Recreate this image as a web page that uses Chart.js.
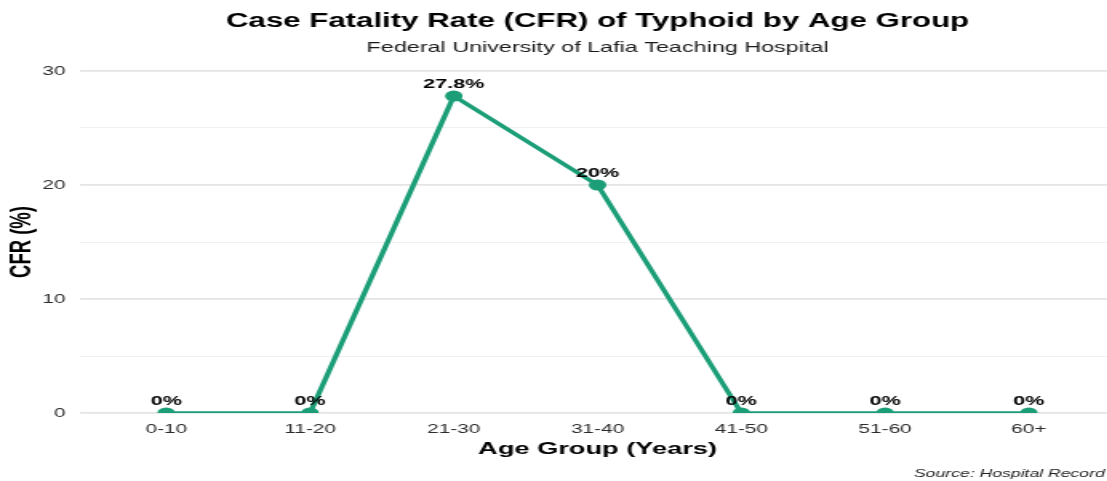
<!DOCTYPE html>
<html lang="en">
<head>
<meta charset="UTF-8">
<title>CFR of Typhoid by Age Group</title>
<script src="https://cdn.jsdelivr.net/npm/chart.js@4.4.1/dist/chart.umd.min.js"></script>
<style>
    * { margin: 0; padding: 0; box-sizing: border-box; }
    html, body { width: 1107px; height: 481px; overflow: hidden; background: #fff; }
    /* the original picture is stretched sideways, so draw narrow and scale x */
    .wrap {
        width: 712px;
        height: 481px;
        transform: scale(1.6, 1);
        transform-origin: 0 0;
    }
</style>
</head>
<body>
<div class="wrap">
    <canvas id="cfrChart"></canvas>
</div>

<script>
const ageGroups = ['0-10', '11-20', '21-30', '31-40', '41-50', '51-60', '60+'];
const cfrValues = [0, 0, 27.8, 20, 0, 0, 0];
const yTicks = [0, 10, 20, 30];

const FONT = "'Liberation Sans', Arial, sans-serif";
const GREEN = '#1b9e77';

// titles, caption and point labels
const textPlugin = {
    id: 'textPlugin',
    afterDatasetsDraw(chart) {
        const ctx = chart.ctx;
        const area = chart.chartArea;
        const cx = (area.left + area.right) / 2;
        ctx.save();
        ctx.textAlign = 'center';
        ctx.textBaseline = 'alphabetic';
        ctx.fillStyle = '#000';
        ctx.font = 'bold 19.5px ' + FONT;
        ctx.fillText('Case Fatality Rate (CFR) of Typhoid by Age Group', cx, 27);
        ctx.fillStyle = '#1a1a1a';
        ctx.font = '14.6px ' + FONT;
        ctx.fillText('Federal University of Lafia Teaching Hospital', cx, 52);

        ctx.textAlign = 'right';
        ctx.fillStyle = '#222';
        ctx.font = 'italic 11px ' + FONT;
        ctx.fillText('Source: Hospital Record', 690.5, 477);

        // value labels
        ctx.textAlign = 'center';
        ctx.fillStyle = '#000';
        ctx.font = 'bold 13.5px ' + FONT;
        const meta = chart.getDatasetMeta(0);
        meta.data.forEach((pt, i) => {
            ctx.fillText(cfrValues[i] + '%', pt.x, pt.y - 8);
        });
        ctx.restore();
    }
};

new Chart(document.getElementById('cfrChart'), {
    type: 'line',
    data: {
        datasets: [{
            data: cfrValues.map((v, i) => ({ x: i, y: v })),
            borderColor: GREEN,
            backgroundColor: GREEN,
            borderWidth: 3.4,
            pointRadius: 5.5,
            pointBorderWidth: 0,
            pointBackgroundColor: GREEN,
            tension: 0
        }]
    },
    options: {
        responsive: true,
        maintainAspectRatio: false,
        animation: false,
        devicePixelRatio: 1,
        layout: { padding: { top: 71, left: 0, right: 15, bottom: 0 } },
        plugins: {
            legend: { display: false },
            tooltip: { enabled: false }
        },
        scales: {
            x: {
                type: 'linear',
                min: -0.6,
                max: 6.6,
                afterBuildTicks: (scale) => {
                    scale.ticks = ageGroups.map((_, i) => ({ value: i }));
                },
                afterFit: (scale) => { scale.height = 68; },
                grid: { display: false },
                border: { display: false },
                ticks: {
                    padding: 1,
                    color: '#2b2b2b',
                    font: { family: FONT, size: 13 },
                    callback: (v) => ageGroups[v]
                },
                title: {
                    display: true,
                    text: 'Age Group (Years)',
                    color: '#000',
                    font: { family: FONT, size: 17, weight: 'bold' },
                    padding: { top: 0, bottom: 21 }
                }
            },
            y: {
                min: 0,
                max: 30,
                afterBuildTicks: (scale) => {
                    const t = [];
                    for (let v = 0; v <= 30; v += 5) t.push({ value: v });
                    scale.ticks = t;
                },
                afterFit: (scale) => { scale.width = 50; },
                border: { display: false },
                grid: {
                    drawTicks: false,
                    color: (c) => (c.tick && c.tick.value % 10 === 0) ? '#e4e4e4' : '#f0f0f0',
                    lineWidth: (c) => (c.tick && c.tick.value % 10 === 0) ? 1.8 : 1
                },
                ticks: {
                    padding: 9,
                    color: '#2b2b2b',
                    font: { family: FONT, size: 13 },
                    callback: (v) => yTicks.includes(v) ? String(v) : ''
                },
                title: {
                    display: true,
                    text: 'CFR (%)',
                    color: '#000',
                    font: { family: FONT, size: 18.5, weight: 'bold' },
                    padding: { top: 3, bottom: 0 }
                }
            }
        }
    },
    plugins: [textPlugin]
});
</script>
</body>
</html>
